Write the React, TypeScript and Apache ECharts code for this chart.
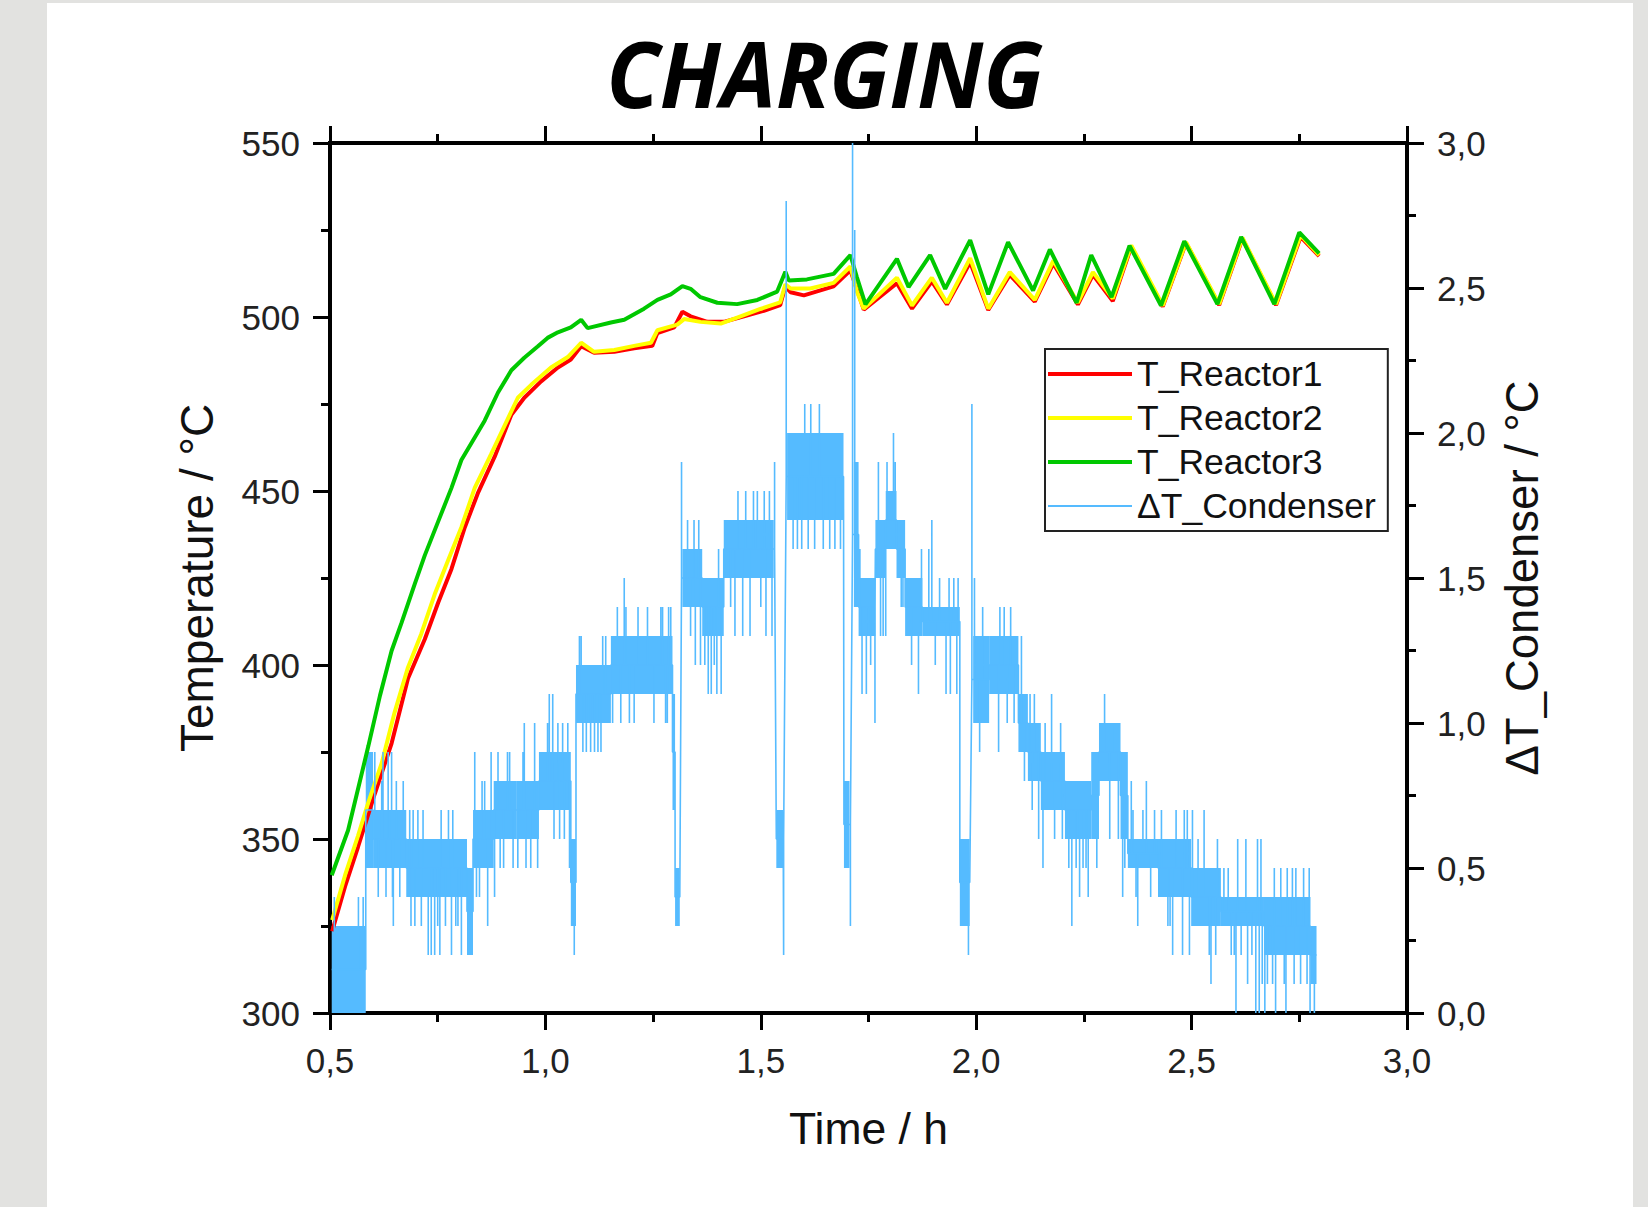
import React, { useEffect, useRef } from 'react';
import * as echarts from 'echarts';

// ---- axis ranges / ticks ----
const timeRange = [0.5, 3.0];
const tempRange = [300, 550];
const dtRange = [0, 3.0];

// ---- series names ----
const seriesNames = ['T_Reactor1', 'T_Reactor2', 'T_Reactor3', 'ΔT_Condenser'];

// ---- T_Reactor1 [time h, °C] ----
const reactor1: [number, number][] = [
  [0.505, 323.5], [0.535, 336.4], [0.565, 347.7], [0.604, 363.0], [0.643, 377.5], [0.681, 396.1],
  [0.720, 407.4], [0.751, 417.9], [0.782, 427.6], [0.813, 439.6], [0.843, 449.3], [0.882, 459.8],
  [0.921, 471.9], [0.951, 476.8], [0.990, 481.5], [1.029, 485.5], [1.059, 487.8], [1.083, 491.6],
  [1.113, 489.7], [1.160, 490.0], [1.206, 491.0], [1.248, 491.7], [1.260, 495.4], [1.299, 497.0],
  [1.318, 501.5], [1.337, 500.2], [1.376, 498.6], [1.414, 498.6], [1.461, 500.2], [1.507, 501.8],
  [1.545, 503.4], [1.557, 508.8], [1.569, 507.1], [1.600, 506.2], [1.669, 508.8], [1.708, 513.4],
  [1.739, 502.1], [1.816, 509.7], [1.851, 502.4], [1.897, 510.2], [1.932, 503.6], [1.986, 515.7],
  [2.028, 502.0], [2.078, 512.1], [2.136, 504.4], [2.179, 515.4], [2.236, 503.6], [2.271, 512.1],
  [2.317, 504.6], [2.360, 520.2], [2.433, 503.0], [2.487, 521.3], [2.564, 503.4], [2.618, 522.5],
  [2.696, 503.4], [2.753, 523.0], [2.796, 517.5],
];

// ---- T_Reactor2 ----
const reactor2: [number, number][] = [
  [0.505, 326.7], [0.535, 339.6], [0.565, 350.9], [0.589, 360.5], [0.620, 371.8], [0.650, 386.4],
  [0.681, 399.3], [0.712, 409.0], [0.743, 420.3], [0.774, 430.0], [0.805, 439.6], [0.836, 450.9],
  [0.874, 460.6], [0.905, 468.7], [0.936, 476.8], [0.967, 480.5], [1.013, 485.5], [1.052, 488.5],
  [1.083, 492.6], [1.113, 490.0], [1.160, 490.5], [1.206, 491.7], [1.245, 492.6], [1.260, 496.2],
  [1.306, 497.8], [1.322, 499.4], [1.360, 498.6], [1.407, 498.1], [1.453, 500.2], [1.499, 502.3],
  [1.545, 504.2], [1.557, 509.4], [1.569, 508.2], [1.615, 508.2], [1.669, 509.8], [1.708, 514.5],
  [1.723, 507.3], [1.739, 502.4], [1.816, 511.3], [1.851, 503.3], [1.897, 511.3], [1.932, 504.1],
  [1.986, 516.9], [2.028, 502.4], [2.078, 512.9], [2.136, 504.9], [2.179, 516.2], [2.236, 504.1],
  [2.271, 512.9], [2.317, 505.3], [2.360, 520.6], [2.433, 503.3], [2.487, 521.5], [2.564, 503.7],
  [2.618, 522.8], [2.696, 503.7], [2.753, 523.5], [2.796, 517.8],
];

// ---- T_Reactor3 ----
const reactor3: [number, number][] = [
  [0.504, 339.6], [0.542, 352.5], [0.589, 376.7], [0.616, 391.2], [0.643, 404.1], [0.666, 412.1],
  [0.697, 423.4], [0.720, 431.5], [0.751, 441.2], [0.782, 450.9], [0.805, 458.9], [0.836, 465.4],
  [0.859, 470.2], [0.890, 478.3], [0.921, 484.7], [0.951, 488.3], [0.982, 491.5], [1.005, 494.0],
  [1.029, 495.6], [1.059, 497.0], [1.083, 499.2], [1.098, 496.8], [1.152, 498.4], [1.183, 499.2],
  [1.229, 502.4], [1.260, 504.9], [1.291, 506.5], [1.318, 508.9], [1.337, 508.1], [1.360, 505.7],
  [1.399, 504.1], [1.445, 503.7], [1.492, 504.9], [1.538, 507.3], [1.557, 513.0], [1.565, 510.5],
  [1.607, 510.8], [1.669, 512.4], [1.708, 517.8], [1.723, 511.5], [1.743, 503.6], [1.816, 516.7],
  [1.843, 508.6], [1.893, 517.8], [1.928, 508.1], [1.986, 522.1], [2.028, 506.5], [2.074, 521.5],
  [2.132, 507.6], [2.171, 519.4], [2.233, 504.1], [2.267, 517.8], [2.314, 505.7], [2.356, 520.5],
  [2.429, 503.3], [2.483, 521.8], [2.560, 503.7], [2.615, 523.0], [2.692, 503.7], [2.750, 524.3],
  [2.796, 518.3],
];

// ---- ΔT_Condenser: dense noisy band read as [tStart, tEnd, low, high] ----
const dtBands: [number, number, number, number][] = [
  [0.504, 0.583, 0.0, 0.3], [0.583, 0.600, 0.5, 0.9], [0.600, 0.677, 0.5, 0.7], [0.677, 0.818, 0.4, 0.6],
  [0.818, 0.832, 0.2, 0.5], [0.832, 0.880, 0.5, 0.7], [0.880, 0.932, 0.6, 0.8], [0.932, 0.985, 0.6, 0.8],
  [0.985, 1.059, 0.7, 0.9], [1.059, 1.071, 0.3, 0.6], [1.071, 1.152, 1.0, 1.2], [1.152, 1.295, 1.1, 1.3],
  [1.295, 1.301, 0.7, 1.1], [1.301, 1.312, 0.3, 0.5], [1.318, 1.364, 1.4, 1.6], [1.364, 1.414, 1.3, 1.5],
  [1.414, 1.530, 1.5, 1.7], [1.536, 1.552, 0.5, 0.7], [1.561, 1.692, 1.7, 2.0], [1.693, 1.706, 0.5, 0.8],
  [1.716, 1.727, 1.4, 1.9], [1.727, 1.766, 1.3, 1.5], [1.766, 1.790, 1.5, 1.7], [1.790, 1.815, 1.6, 1.8],
  [1.815, 1.835, 1.5, 1.7], [1.835, 1.875, 1.3, 1.5], [1.875, 1.962, 1.3, 1.4], [1.962, 1.985, 0.3, 0.6],
  [1.993, 2.030, 1.0, 1.3], [2.030, 2.098, 1.1, 1.3], [2.098, 2.120, 0.9, 1.1], [2.120, 2.150, 0.8, 1.0],
  [2.150, 2.206, 0.7, 0.9], [2.206, 2.267, 0.6, 0.8], [2.267, 2.285, 0.6, 0.9], [2.285, 2.335, 0.8, 1.0],
  [2.335, 2.352, 0.6, 0.9], [2.352, 2.422, 0.5, 0.6], [2.422, 2.499, 0.4, 0.6], [2.499, 2.568, 0.3, 0.5],
  [2.568, 2.668, 0.3, 0.4], [2.668, 2.776, 0.2, 0.4], [2.776, 2.790, 0.1, 0.3],
];

// ---- ΔT_Condenser: single excursions [time, value] ----
const dtSpikes: [number, number][] = [
  [0.510, 0.4], [0.566, 0.4], [0.577, 0.4],
  [0.604, 0.9], [0.612, 0.4], [0.620, 0.8], [0.623, 0.9], [0.630, 0.4], [0.635, 0.9], [0.643, 0.9],
  [0.645, 0.4], [0.647, 0.3], [0.654, 0.8], [0.662, 0.4], [0.670, 0.8],
  [0.685, 0.7], [0.688, 0.3], [0.693, 0.7], [0.697, 0.3], [0.704, 0.7], [0.712, 0.3], [0.716, 0.7],
  [0.728, 0.2], [0.735, 0.2], [0.743, 0.2], [0.750, 0.3], [0.755, 0.2], [0.758, 0.7], [0.768, 0.3],
  [0.775, 0.7], [0.782, 0.2], [0.785, 0.7], [0.792, 0.3], [0.797, 0.3], [0.805, 0.2],
  [0.836, 0.9], [0.840, 0.4], [0.847, 0.4], [0.853, 0.8], [0.859, 0.8], [0.866, 0.3], [0.874, 0.9],
  [0.882, 0.4], [0.890, 0.9], [0.895, 0.5], [0.903, 0.5], [0.912, 0.9], [0.917, 0.9], [0.925, 0.5],
  [0.936, 0.5], [0.948, 0.9], [0.951, 1.0], [0.955, 0.5], [0.966, 0.5], [0.975, 1.0], [0.982, 0.5],
  [1.005, 1.0], [1.009, 1.1], [1.017, 1.1], [1.020, 0.6], [1.029, 1.0], [1.033, 0.6], [1.040, 1.0],
  [1.044, 0.6], [1.052, 1.0], [1.056, 0.5],
  [1.067, 0.2],
  [1.079, 1.3], [1.083, 1.3], [1.087, 0.9], [1.095, 0.9], [1.105, 0.9], [1.114, 0.9], [1.122, 0.9],
  [1.129, 0.9], [1.133, 1.3], [1.140, 1.3],
  [1.156, 1.0], [1.167, 1.4], [1.175, 1.0], [1.183, 1.5], [1.187, 1.4], [1.195, 1.0], [1.206, 1.0],
  [1.215, 1.4], [1.237, 1.4], [1.252, 1.0], [1.268, 1.4], [1.272, 1.4], [1.279, 1.0], [1.283, 1.0],
  [1.286, 1.4], [1.291, 1.4],
  [1.316, 1.9],
  [1.330, 1.7], [1.337, 1.3], [1.345, 1.7], [1.348, 1.2], [1.356, 1.7], [1.360, 1.2],
  [1.370, 1.2], [1.378, 1.1], [1.385, 1.1], [1.392, 1.2], [1.398, 1.1], [1.402, 1.6], [1.408, 1.1],
  [1.430, 1.4], [1.440, 1.3], [1.447, 1.8], [1.458, 1.3], [1.465, 1.8], [1.475, 1.3], [1.483, 1.8],
  [1.492, 1.8], [1.500, 1.4], [1.508, 1.8], [1.512, 1.3], [1.520, 1.8], [1.526, 1.3], [1.532, 1.9],
  [1.553, 0.2], [1.559, 2.8],
  [1.575, 1.6], [1.585, 1.6], [1.595, 1.6], [1.602, 2.1], [1.610, 1.6], [1.616, 2.1], [1.625, 1.6],
  [1.636, 2.1], [1.645, 1.6], [1.660, 1.6], [1.672, 1.6], [1.685, 1.6],
  [1.708, 0.3], [1.713, 3.0], [1.718, 2.7],
  [1.730, 1.6], [1.735, 1.1], [1.745, 1.1], [1.755, 1.2], [1.765, 1.0],
  [1.773, 1.9], [1.778, 1.3], [1.784, 1.3], [1.790, 1.3], [1.793, 1.9], [1.808, 2.0], [1.812, 1.9],
  [1.826, 1.4], [1.830, 1.4],
  [1.850, 1.2], [1.866, 1.1], [1.873, 1.6],
  [1.890, 1.6], [1.897, 1.7], [1.905, 1.2], [1.915, 1.5], [1.930, 1.1], [1.937, 1.5], [1.940, 1.1],
  [1.948, 1.5], [1.955, 1.1], [1.958, 1.5],
  [1.982, 0.2], [1.990, 2.1],
  [1.996, 1.5], [2.008, 0.9], [2.015, 1.4],
  [2.052, 0.9], [2.055, 1.4], [2.065, 1.4], [2.072, 1.0], [2.080, 1.4], [2.088, 1.0],
  [2.105, 1.3], [2.112, 0.8], [2.125, 1.1], [2.130, 0.7], [2.135, 1.1], [2.145, 0.6],
  [2.155, 0.5], [2.160, 1.0], [2.175, 1.1], [2.182, 0.6], [2.196, 1.0], [2.200, 0.6],
  [2.215, 0.5], [2.222, 0.3], [2.232, 0.5], [2.240, 0.4], [2.248, 0.5], [2.255, 0.5], [2.260, 0.4],
  [2.280, 0.5], [2.298, 1.1], [2.310, 0.6], [2.320, 1.0], [2.330, 0.6], [2.340, 0.4], [2.345, 0.5],
  [2.360, 0.8], [2.364, 0.7], [2.371, 0.4], [2.375, 0.3], [2.387, 0.7], [2.395, 0.8], [2.405, 0.4],
  [2.414, 0.7],
  [2.430, 0.7], [2.445, 0.3], [2.450, 0.3], [2.456, 0.2], [2.464, 0.7], [2.479, 0.2], [2.483, 0.7],
  [2.490, 0.7], [2.495, 0.2],
  [2.502, 0.7], [2.515, 0.6], [2.529, 0.7], [2.541, 0.2], [2.545, 0.1], [2.556, 0.2], [2.560, 0.6],
  [2.575, 0.5], [2.585, 0.5], [2.592, 0.2], [2.599, 0.2], [2.603, 0.0], [2.607, 0.6], [2.615, 0.2],
  [2.626, 0.6], [2.630, 0.1], [2.640, 0.2], [2.649, 0.0], [2.653, 0.6], [2.657, 0.0], [2.661, 0.6],
  [2.664, 0.1],
  [2.670, 0.0], [2.676, 0.1], [2.688, 0.1], [2.692, 0.5], [2.695, 0.0], [2.707, 0.5], [2.715, 0.1],
  [2.719, 0.0], [2.722, 0.5], [2.734, 0.5], [2.738, 0.1], [2.742, 0.5], [2.753, 0.1], [2.760, 0.5],
  [2.768, 0.1], [2.773, 0.5], [2.775, 0.0],
  [2.785, 0.0],
];

const RED = '#ff0000';
const YELLOW = '#ffff00';
const GREEN = '#00c800';
const BLUE = '#55bbff';
const FONT = '"Liberation Sans", Arial, sans-serif';

// Connect the read band and its excursions into one trace (line hidden inside the band fill)
function buildDtTrace(): [number, number][] {
  const bandDist = (t: number, b: [number, number, number, number]) =>
    t < b[0] ? b[0] - t : t > b[1] ? t - b[1] : 0;
  const groups: { t: number; pts: [number, number][] }[][] = dtBands.map(() => []);
  dtSpikes.forEach(([t, v]) => {
    let best = 0;
    dtBands.forEach((b, i) => {
      if (bandDist(t, b) < bandDist(t, dtBands[best])) best = i;
    });
    const b = dtBands[best];
    const mid = (b[2] + b[3]) / 2;
    groups[best].push({ t, pts: [[t, mid], [t, v], [t, mid]] });
  });
  const out: [number, number][] = [];
  dtBands.forEach((b, i) => {
    const mid = (b[2] + b[3]) / 2;
    const ev = [
      { t: b[0], pts: [[b[0], mid]] as [number, number][] },
      ...groups[i],
      { t: b[1], pts: [[b[1], mid]] as [number, number][] },
    ].sort((a, c) => a.t - c.t);
    ev.forEach((e) => e.pts.forEach((p) => out.push(p)));
  });
  return out;
}

const commaFmt = (v: number) => v.toFixed(1).replace('.', ',');

const axisLineStyle = { color: '#000', width: 4, cap: 'square' as const };
const tickStyle = { color: '#000', width: 3 };
const labelStyle = { fontSize: 35, fontFamily: FONT, color: '#222' };
const nameStyle = (size: number) => ({ fontSize: size, fontFamily: FONT, color: '#111' });

export default function App() {
  const ref = useRef<HTMLDivElement>(null);
  useEffect(() => {
    if (!ref.current) return;
    const chart = echarts.init(ref.current, null, { renderer: 'svg' });
    const lineSeries = (name: string, data: [number, number][], color: string) => ({
      type: 'line',
      name,
      data,
      xAxisIndex: 0,
      yAxisIndex: 0,
      symbol: 'none',
      showSymbol: false,
      lineStyle: { color, width: 4 },
      itemStyle: { color },
      emphasis: { disabled: true },
      clip: true,
    });
    const option: any = {
      animation: false,
      backgroundColor: '#e2e2e0',
      graphic: [
        {
          type: 'rect',
          left: 47,
          top: 3,
          shape: { width: 1586, height: 1204 },
          style: { fill: '#ffffff' },
          z: -10,
          silent: true,
        },
        {
          type: 'text',
          x: 825,
          y: 72,
          scaleX: 0.95,
          z: 10,
          style: {
            text: 'CHARGING',
            fontSize: 92,
            fontWeight: 'bold',
            fontStyle: 'italic',
            fontFamily: '"Open Sans", "Liberation Sans", sans-serif',
            fill: '#000',
            align: 'center',
            verticalAlign: 'middle',
          },
        },
      ],
      grid: { left: 330, right: 241, top: 143, bottom: 194, containLabel: false, outerBoundsMode: 'none' },
      legend: {
        orient: 'vertical',
        left: 1045,
        top: 349,
        padding: [5, 12, 5, 3],
        itemGap: 4,
        itemWidth: 84,
        itemHeight: 4,
        backgroundColor: '#fff',
        borderColor: '#222',
        borderWidth: 2,
        borderRadius: 0,
        selectedMode: false,
        itemStyle: { borderWidth: 0 },
        textStyle: { fontSize: 35.5, fontFamily: FONT, color: '#111', lineHeight: 40 },
        data: [
          { name: seriesNames[0], icon: 'path://M0,0H84V4H0Z' },
          { name: seriesNames[1], icon: 'path://M0,0H84V4H0Z' },
          { name: seriesNames[2], icon: 'path://M0,0H84V4H0Z' },
          { name: seriesNames[3], icon: 'path://M0,0H0.05V4H0ZM0,1.1H84V2.9H0Z' },
        ],
      },
      xAxis: [
        {
          type: 'value',
          position: 'bottom',
          min: timeRange[0],
          max: timeRange[1],
          interval: 0.5,
          name: 'Time / h',
          nameLocation: 'middle',
          nameGap: 93,
          nameTextStyle: nameStyle(44.5),
          axisLine: { show: true, onZero: false, lineStyle: axisLineStyle },
          axisTick: { show: true, inside: false, length: 17, lineStyle: tickStyle },
          minorTick: { show: true, splitNumber: 2, length: 9, lineStyle: tickStyle },
          axisLabel: { ...labelStyle, margin: 30, formatter: commaFmt },
          splitLine: { show: false },
          minorSplitLine: { show: false },
        },
        {
          type: 'value',
          position: 'top',
          min: timeRange[0],
          max: timeRange[1],
          interval: 0.5,
          axisLine: { show: true, onZero: false, lineStyle: axisLineStyle },
          axisTick: { show: true, inside: false, length: 17, lineStyle: tickStyle },
          minorTick: { show: true, splitNumber: 2, length: 9, lineStyle: tickStyle },
          axisLabel: { show: false },
          splitLine: { show: false },
        },
      ],
      yAxis: [
        {
          type: 'value',
          position: 'left',
          min: tempRange[0],
          max: tempRange[1],
          interval: 50,
          name: 'Temperature / °C',
          nameLocation: 'middle',
          nameGap: 110,
          nameTextStyle: nameStyle(46),
          axisLine: { show: true, onZero: false, lineStyle: axisLineStyle },
          axisTick: { show: true, inside: false, length: 17, lineStyle: tickStyle },
          minorTick: { show: true, splitNumber: 2, length: 9, lineStyle: tickStyle },
          axisLabel: { ...labelStyle, margin: 30, formatter: (v: number) => String(v) },
          splitLine: { show: false },
        },
        {
          type: 'value',
          position: 'right',
          min: dtRange[0],
          max: dtRange[1],
          interval: 0.5,
          name: 'ΔT_Condenser / °C',
          nameLocation: 'middle',
          nameGap: 92,
          nameTextStyle: nameStyle(45.5),
          axisLine: { show: true, onZero: false, lineStyle: axisLineStyle },
          axisTick: { show: true, inside: false, length: 17, lineStyle: tickStyle },
          minorTick: { show: true, splitNumber: 2, length: 9, lineStyle: tickStyle },
          axisLabel: { ...labelStyle, margin: 30, formatter: commaFmt },
          splitLine: { show: false },
        },
      ],
      series: [
        lineSeries(seriesNames[0], reactor1, RED),
        lineSeries(seriesNames[1], reactor2, YELLOW),
        lineSeries(seriesNames[2], reactor3, GREEN),
        {
          type: 'custom',
          name: 'ΔT_Condenser band',
          xAxisIndex: 0,
          yAxisIndex: 1,
          data: dtBands,
          encode: { x: [0, 1], y: [2, 3] },
          clip: true,
          silent: true,
          renderItem: (_p: any, api: any) => {
            const a = api.coord([api.value(0), api.value(3)]);
            const b = api.coord([api.value(1), api.value(2)]);
            return {
              type: 'rect',
              shape: { x: a[0], y: a[1], width: b[0] - a[0], height: b[1] - a[1] },
              style: { fill: BLUE },
            };
          },
        },
        {
          type: 'line',
          name: seriesNames[3],
          data: buildDtTrace(),
          xAxisIndex: 0,
          yAxisIndex: 1,
          symbol: 'none',
          showSymbol: false,
          lineStyle: { color: BLUE, width: 1.6 },
          itemStyle: { color: BLUE },
          emphasis: { disabled: true },
          clip: true,
        },
      ],
    };
    chart.setOption(option);
    return () => chart.dispose();
  }, []);
  return <div ref={ref} style={{ position: 'fixed', left: 0, top: 0, width: 1648, height: 1207 }} />;
}
